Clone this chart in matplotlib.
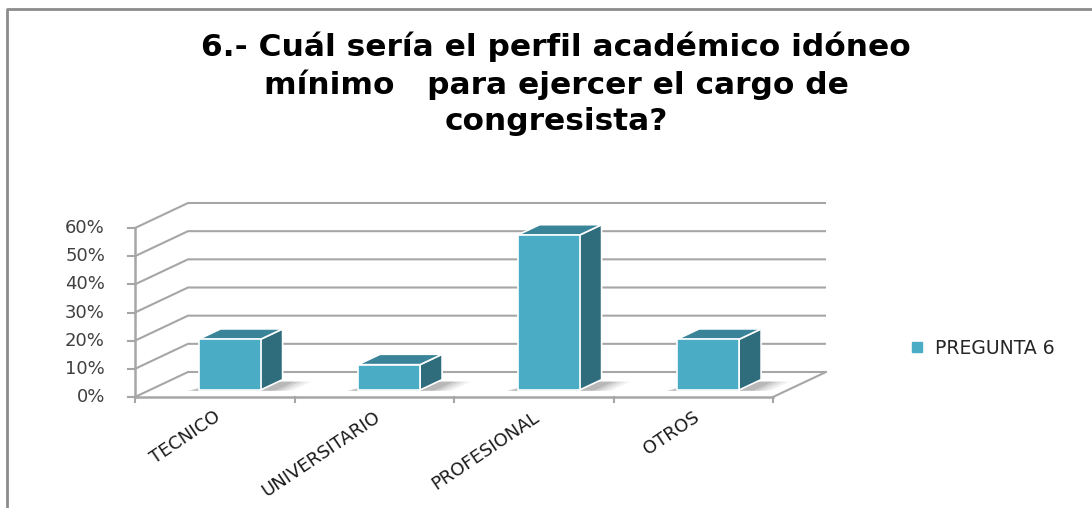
import matplotlib
matplotlib.use("Agg")
import matplotlib.pyplot as plt
from matplotlib.patches import Polygon
from matplotlib.lines import Line2D

# ---- data ----
categories = ["TECNICO", "UNIVERSITARIO", "PROFESIONAL", "OTROS"]
values = [0.18, 0.09, 0.55, 0.18]
series_name = "PREGUNTA 6"
yticks = [0.0, 0.1, 0.2, 0.3, 0.4, 0.5, 0.6]
ytick_labels = ["0%", "10%", "20%", "30%", "40%", "50%", "60%"]
title = "6.- Cuál sería el perfil académico idóneo\nmínimo   para ejercer el cargo de\ncongresista?"

# ---- style ----
W, H = 1092, 508
FRONT = "#4BACC6"
TOP = "#3A8499"
SIDE = "#2F6C7C"
GRID = "#A6A6A6"

fig = plt.figure(figsize=(W / 100, H / 100), dpi=100)
fig.patch.set_facecolor("white")

# axes = front plane of the 3D box
x0_px, x1_px = 135, 773
y0_px, y1_px = 397, 228
ax = fig.add_axes([x0_px / W, (H - y0_px) / H, (x1_px - x0_px) / W, (y0_px - y1_px) / H])
n = len(categories)
ax.set_xlim(0, n)
ax.set_ylim(0, yticks[-1])
ax.axis("off")

cat_px = (x1_px - x0_px) / n
val_px = (y0_px - y1_px) / yticks[-1]
DX = 53 / cat_px      # full depth shift in x (data units)
DY = 25 / val_px      # full depth shift in y (data units)

def P(x, y, z):
    return (x + z * DX, y + z * DY)

# back wall gridlines + left wall diagonals
for v in yticks:
    xs, ys = zip(P(0, v, 0), P(0, v, 1), P(n, v, 1))
    ax.plot(xs, ys, color=GRID, lw=1.5, clip_on=False, zorder=1, solid_capstyle="butt")
# floor right edge and front floor line
xs, ys = zip(P(n, 0, 0), P(n, 0, 1))
ax.plot(xs, ys, color=GRID, lw=1.5, clip_on=False, zorder=1)
ax.plot([0, n], [0, 0], color=GRID, lw=1.8, clip_on=False, zorder=4)
# front vertical axis
ax.plot([0, 0], [0, yticks[-1]], color=GRID, lw=1.8, clip_on=False, zorder=4)

# ticks
tick_len_x = 7 / cat_px
tick_len_y = 5 / val_px
for v in yticks:
    ax.plot([-tick_len_x, 0], [v, v], color=GRID, lw=1.5, clip_on=False, zorder=4)
for i in range(n + 1):
    ax.plot([i, i], [0, -tick_len_y], color=GRID, lw=1.5, clip_on=False, zorder=4)

# y tick labels
for v, lab in zip(yticks, ytick_labels):
    ax.annotate(lab, (0, v), xytext=(-30, 0), textcoords="offset pixels",
                ha="right", va="center", fontsize=13, color="#404040",
                family="DejaVu Sans", annotation_clip=False)

# bars
z0 = 7 / 25
bd = 22 / 53
z1 = z0 + bd
bw = 62 / cat_px
for i, h in enumerate(values):
    xl = i + 0.5 - bw / 2
    xr = i + 0.5 + bw / 2
    # soft shadow on the floor
    for k, a in enumerate([0.08, 0.10, 0.14, 0.18]):
        s = 0.035 * (3 - k)
        shadow = [P(xl - 0.06 + s * 0.3, 0, z0 - 0.03), P(xr + 0.10 + s, 0, z0 - 0.03),
                  P(xr + 0.10 + s, 0, z1 - 0.08), P(xl + 0.05, 0, z1 - 0.08)]
        ax.add_patch(Polygon(shadow, closed=True, facecolor="#595959", edgecolor="none",
                             alpha=a, clip_on=False, zorder=2))
    front = [P(xl, 0, z0), P(xr, 0, z0), P(xr, h, z0), P(xl, h, z0)]
    top = [P(xl, h, z0), P(xr, h, z0), P(xr, h, z1), P(xl, h, z1)]
    side = [P(xr, 0, z0), P(xr, 0, z1), P(xr, h, z1), P(xr, h, z0)]
    for poly, col in [(side, SIDE), (top, TOP), (front, FRONT)]:
        ax.add_patch(Polygon(poly, closed=True, facecolor=col, edgecolor="white",
                             lw=1.2, joinstyle="round", clip_on=False, zorder=3))

# category labels
for i, lab in enumerate(categories):
    ax.annotate(lab, (i + 0.5, 0), xytext=(-1, -11), textcoords="offset pixels",
                ha="right", va="top", rotation=34, rotation_mode="anchor",
                fontsize=13, color="#1a1a1a", family="DejaVu Sans",
                annotation_clip=False)

# legend
handle = Line2D([], [], marker="s", markersize=7, linestyle="none",
                markerfacecolor=FRONT, markeredgecolor=FRONT)
leg = fig.legend([handle], [series_name], loc="center left",
                 bbox_to_anchor=(893 / W, (H - 348) / H), frameon=False,
                 handlelength=0.8, handletextpad=0.55,
                 prop={"family": "DejaVu Sans", "size": 13.5})
for t in leg.get_texts():
    t.set_color("#262626")

# title
fig.text(556 / W, (H - 84) / H, title, ha="center", va="center",
         fontsize=22.5, fontweight="bold", family="DejaVu Sans",
         linespacing=1.3, color="black")

# chart area border (left and top)
fig.add_artist(Line2D([7 / W, 7 / W, 1.0], [0, (H - 9) / H, (H - 9) / H],
                      transform=fig.transFigure, color="#8C8C8C", lw=2))

fig.savefig("out.png", dpi=100, facecolor="white")
